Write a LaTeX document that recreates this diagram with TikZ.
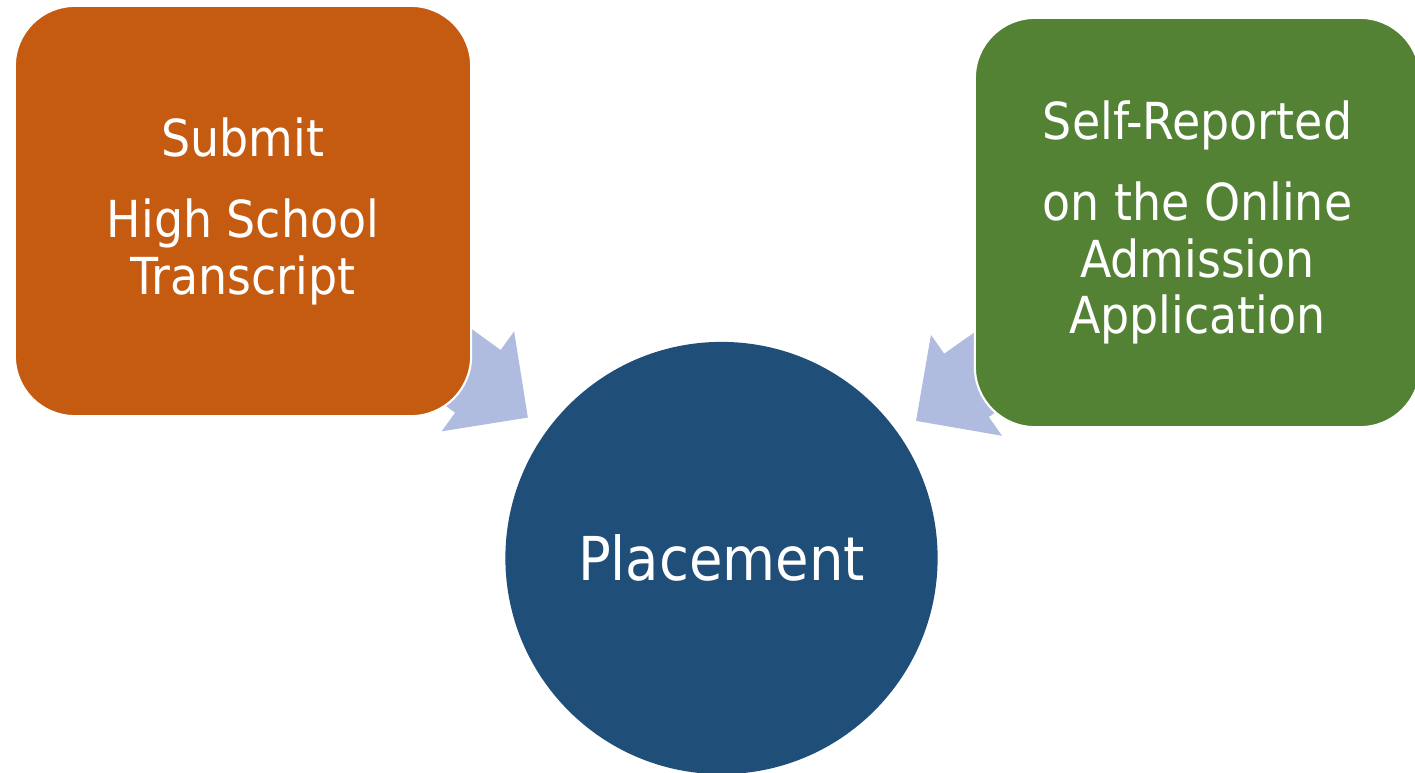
\documentclass[tikz,border=0pt]{standalone}
\usepackage{fontspec}
\newfontfamily\diagfont{DejaVu Sans Condensed}
\usepackage{tikz}
\usetikzlibrary{shapes.arrows}
\usetikzlibrary{backgrounds}
\definecolor{subOrange}{HTML}{C55A11}
\definecolor{selfGreen}{HTML}{548235}
\definecolor{placeBlue}{HTML}{1F4E79}
\definecolor{flowBlue}{HTML}{B0BCDF}

\begin{document}
\begin{tikzpicture}[x=0.01cm,y=-0.01cm,
        source/.style={rounded corners=0.6cm,draw=white,line width=0.6pt,text=white,align=center,
            inner sep=0pt,font={\diagfont\fontsize{14.5}{16.2}\selectfont}},
        flow/.style={single arrow,fill=flowBlue,draw=none,inner xsep=0pt,inner ysep=0.38cm,
            minimum height=2.2cm,single arrow head extend=0.23cm,sloped,allow upside down,anchor=tip}]
        \useasboundingbox (0,0) rectangle (1415,772);
        \clip (0,0) rectangle (1415,772);

        \node[source,fill=subOrange,minimum width=4.56cm,minimum height=4.10cm] (sub) at (243,211)
            {Submit\\[6.8pt]High School\\Transcript};
        \node[source,fill=selfGreen,minimum width=4.45cm,minimum height=4.09cm] (self) at (1197.5,222.5)
            {Self-Reported\\[6.8pt]on the Online\\Admission\\Application};
        \node[circle,fill=placeBlue,minimum size=4.32cm,inner sep=0pt,text=white,
            font={\diagfont\fontsize{17.2}{20}\selectfont}] (place) at (721.5,558) {Placement};

        \begin{pgfonlayer}{background}
            \path (sub.center) -- node[flow,pos=0.597] (subflow) {} (place.center);
            \path (self.center) -- node[flow,pos=0.593] (selfflow) {} (place.center);
        \end{pgfonlayer}
    \end{tikzpicture}
\end{document}
